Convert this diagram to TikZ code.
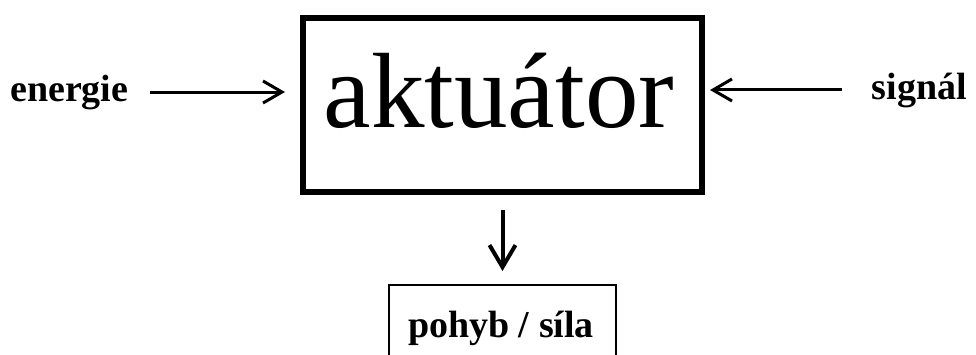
\documentclass[tikz,border=0pt]{standalone}
\usepackage{fontspec}
\setmainfont{Liberation Serif}
\usetikzlibrary{arrows.meta}
\begin{document}
\begin{tikzpicture}[x=1pt,y=-1pt,
  bigbox/.style={draw,line width=6pt,minimum width=399pt,minimum height=174pt,inner sep=0pt},
  smallbox/.style={draw,line width=2pt,minimum width=227pt,minimum height=140pt,inner sep=0pt},
  lbl/.style={inner sep=0pt,font=\fontsize{38}{40}\selectfont\bfseries},
  sidearr/.style={line width=3pt,-{Straight Barb[length=19pt,width=22pt]}},
  downarr/.style={line width=4pt,-{Straight Barb[length=22pt,width=26pt]}}]
\useasboundingbox (0,0) rectangle (976,354);
\clip (0,0) rectangle (976,354);
\fill[white] (0,0) rectangle (976,354);
\node[bigbox] (act) at (502.5,105) {};
\node[anchor=base,inner sep=0pt,font=\fontsize{107}{110}\selectfont] (acttext) at (499,127) {aktuátor};
\node[smallbox,anchor=north] (out) at (502.5,284) {};
\node[lbl,anchor=base] (outtext) at (501,337) {pohyb / síla};
\node[lbl,anchor=base west] (en) at (10,101) {energie};
\node[lbl,anchor=base east] (sg) at (967,99) {signál};
\draw[sidearr,shorten <=21pt,shorten >=15pt] (en.east) -- (en.east -| act.west);
\draw[sidearr,shorten <=30pt,shorten >=5pt] (sg.west) -- (sg.west -| act.east);
\draw[downarr,shorten <=15pt,shorten >=13pt] (act.south) -- (out.north);
\end{tikzpicture}
\end{document}
